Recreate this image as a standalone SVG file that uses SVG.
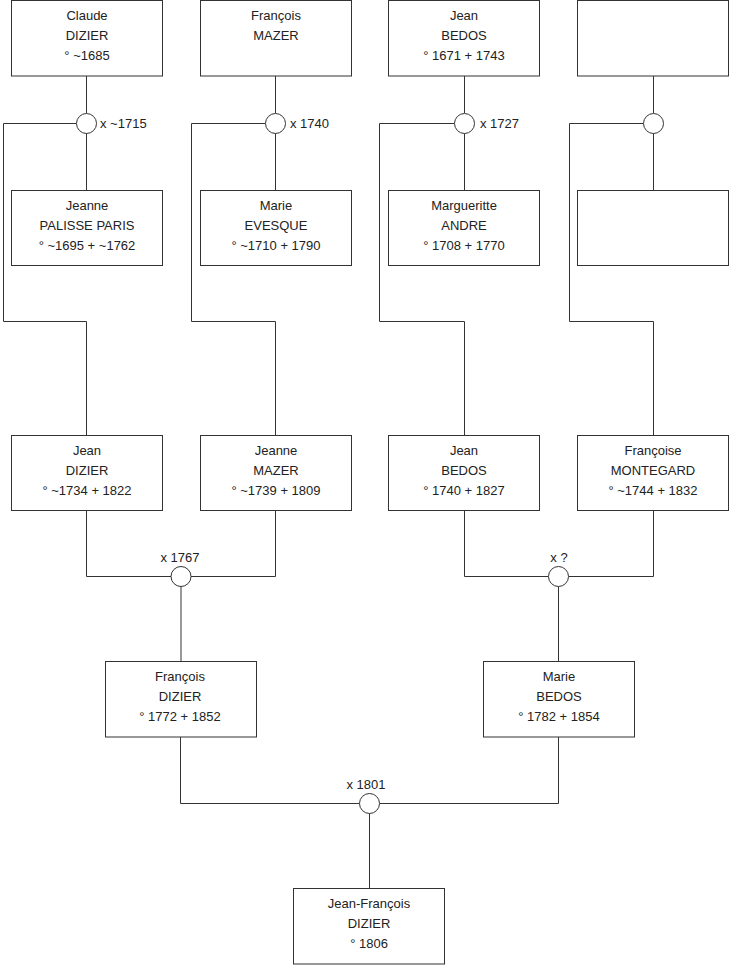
<svg xmlns="http://www.w3.org/2000/svg" width="740" height="975" viewBox="0 0 740 975">
<style>
.box{fill:#fff;stroke:#333;stroke-width:1}
.ln{fill:none;stroke:#333;stroke-width:1}
.un{fill:#fff;stroke:#333;stroke-width:1}
text{font-family:"Liberation Sans",Arial,sans-serif;font-size:13px;fill:#222}
.c{text-anchor:middle}
</style>
<rect width="740" height="975" fill="#fff"/>
<g id="connectors">
<path class="ln" d="M86.5 76V113M86.5 133V190M76.5 123.5H3.5V321.5H86.5V435"/>
<path class="ln" d="M275.5 76V113M275.5 133V190M265.5 123.5H191.5V321.5H275.5V435"/>
<path class="ln" d="M464.5 76V113M464.5 133V190M454.5 123.5H379.5V321.5H464.5V435"/>
<path class="ln" d="M653.5 76V113M653.5 133V190M643.5 123.5H569.5V321.5H653.5V435"/>
<path class="ln" d="M86.5 510V576.5H171M191 576.5H275.5V510M181 586.5V661"/>
<path class="ln" d="M464.5 510V576.5H548.5M568.5 576.5H653.5V510M558.5 586.5V661"/>
<path class="ln" d="M180.5 737V803.5H359.5M379.5 803.5H558.5V737M369.5 813.5V888"/>
</g>
<g id="unions">
<circle class="un" cx="86.5" cy="123.5" r="10"/><text x="100" y="128">x ~1715</text>
<circle class="un" cx="275.5" cy="123.5" r="10"/><text x="290" y="128">x 1740</text>
<circle class="un" cx="464.5" cy="123.5" r="10"/><text x="480" y="128">x 1727</text>
<circle class="un" cx="653.5" cy="123.5" r="10"/>
<circle class="un" cx="181" cy="576.5" r="10"/><text class="c" x="180" y="562">x 1767</text>
<circle class="un" cx="558.5" cy="576.5" r="10"/><text class="c" x="559" y="562">x ?</text>
<circle class="un" cx="369.5" cy="803.5" r="10"/><text class="c" x="366" y="789">x 1801</text>
</g>
<g id="claude-dizier"><rect class="box" x="11.5" y="0.5" width="151" height="75.5"/><text class="c" x="87" y="20">Claude</text><text class="c" x="87" y="40">DIZIER</text><text class="c" x="87" y="60">° ~1685</text></g>
<g id="francois-mazer"><rect class="box" x="200.5" y="0.5" width="151" height="75.5"/><text class="c" x="276" y="20">François</text><text class="c" x="276" y="40">MAZER</text></g>
<g id="jean-bedos-1671"><rect class="box" x="388.5" y="0.5" width="151" height="75.5"/><text class="c" x="464" y="20">Jean</text><text class="c" x="464" y="40">BEDOS</text><text class="c" x="464" y="60">° 1671 + 1743</text></g>
<g id="unknown-1"><rect class="box" x="577.5" y="0.5" width="151" height="75.5"/></g>
<g id="jeanne-palisse"><rect class="box" x="11.5" y="190.5" width="151" height="75"/><text class="c" x="87" y="210">Jeanne</text><text class="c" x="87" y="230">PALISSE PARIS</text><text class="c" x="87" y="250">° ~1695 + ~1762</text></g>
<g id="marie-evesque"><rect class="box" x="200.5" y="190.5" width="151" height="75"/><text class="c" x="276" y="210">Marie</text><text class="c" x="276" y="230">EVESQUE</text><text class="c" x="276" y="250">° ~1710 + 1790</text></g>
<g id="marguerite-andre"><rect class="box" x="388.5" y="190.5" width="151" height="75"/><text class="c" x="464" y="210">Margueritte</text><text class="c" x="464" y="230">ANDRE</text><text class="c" x="464" y="250">° 1708 + 1770</text></g>
<g id="unknown-2"><rect class="box" x="577.5" y="190.5" width="151" height="75"/></g>
<g id="jean-dizier"><rect class="box" x="11.5" y="435.5" width="151" height="75"/><text class="c" x="87" y="455">Jean</text><text class="c" x="87" y="475">DIZIER</text><text class="c" x="87" y="495">° ~1734 + 1822</text></g>
<g id="jeanne-mazer"><rect class="box" x="200.5" y="435.5" width="151" height="75"/><text class="c" x="276" y="455">Jeanne</text><text class="c" x="276" y="475">MAZER</text><text class="c" x="276" y="495">° ~1739 + 1809</text></g>
<g id="jean-bedos-1740"><rect class="box" x="388.5" y="435.5" width="151" height="75"/><text class="c" x="464" y="455">Jean</text><text class="c" x="464" y="475">BEDOS</text><text class="c" x="464" y="495">° 1740 + 1827</text></g>
<g id="francoise-montegard"><rect class="box" x="577.5" y="435.5" width="151" height="75"/><text class="c" x="653" y="455">Françoise</text><text class="c" x="653" y="475">MONTEGARD</text><text class="c" x="653" y="495">° ~1744 + 1832</text></g>
<g id="francois-dizier"><rect class="box" x="105.5" y="661.5" width="151" height="75.5"/><text class="c" x="180" y="681">François</text><text class="c" x="180" y="701">DIZIER</text><text class="c" x="180" y="721">° 1772 + 1852</text></g>
<g id="marie-bedos"><rect class="box" x="483.5" y="661.5" width="151" height="75.5"/><text class="c" x="559" y="681">Marie</text><text class="c" x="559" y="701">BEDOS</text><text class="c" x="559" y="721">° 1782 + 1854</text></g>
<g id="jean-francois-dizier"><rect class="box" x="293.5" y="888.5" width="151" height="75.5"/><text class="c" x="369" y="908">Jean-François</text><text class="c" x="369" y="928">DIZIER</text><text class="c" x="369" y="948">° 1806</text></g>
</svg>
